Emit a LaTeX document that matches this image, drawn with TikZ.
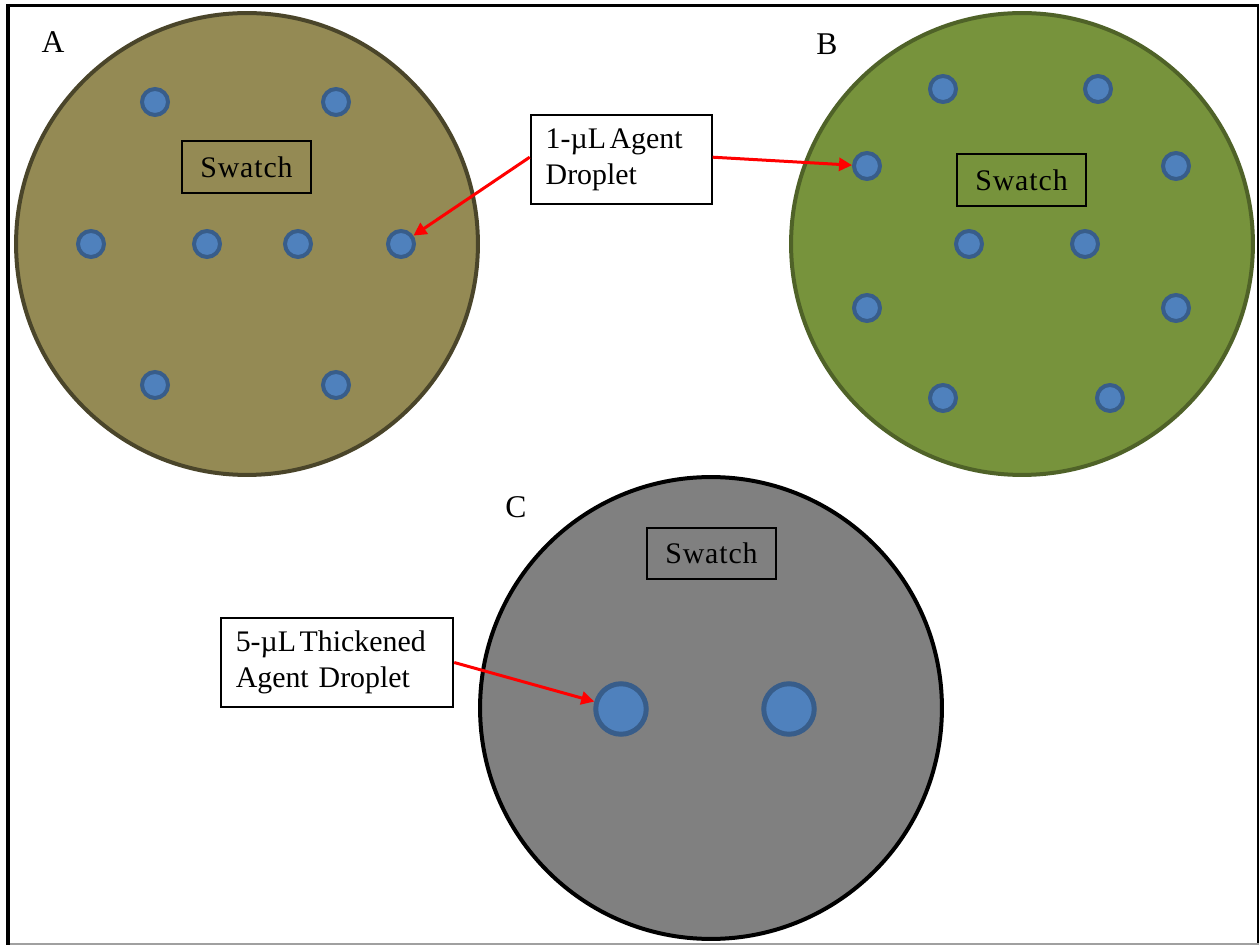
\documentclass[tikz,border=0pt]{standalone}
\usepackage{fontspec}
\setmainfont{Liberation Serif}
\newfontfamily\swfont[LetterSpace=3]{Liberation Serif}
\usetikzlibrary{arrows.meta}
\definecolor{tanfill}{HTML}{948A54}
\definecolor{tanline}{HTML}{4A452A}
\definecolor{grnfill}{HTML}{77933C}
\definecolor{grnline}{HTML}{4F6228}
\definecolor{dropfill}{HTML}{4F81BD}
\definecolor{dropline}{HTML}{385D8A}
\definecolor{dishgray}{HTML}{808080}
\definecolor{framegray}{HTML}{A0A0A0}
\newcommand{\tsp}{\hspace{0.12em}}
\begin{document}
\begin{tikzpicture}[x=0.02cm,y=-0.02cm,
  dish/.style={circle, inner sep=0pt, minimum size=9.24cm, line width=0.08cm},
  drop/.style={circle, inner sep=0pt, minimum size=0.52cm, draw=dropline, fill=dropfill, line width=0.08cm},
  bigdrop/.style={circle, inner sep=0pt, minimum size=1.01cm, draw=dropline, fill=dropfill, line width=0.1cm},
  swatchbox/.style={draw=black, line width=0.04cm, minimum width=2.6cm, minimum height=1.04cm, inner sep=0pt, font=\swfont\fontsize{17}{20}\selectfont},
  callout/.style={draw=black, fill=white, line width=0.04cm, align=left, inner xsep=0.3cm, inner ysep=0pt, font=\fontsize{17}{20.2}\selectfont},
  panel/.style={inner sep=0pt, font=\fontsize{18}{20}\selectfont},
  pointer/.style={draw=red, line width=0.06cm, -{Triangle[length=0.26cm,width=0.26cm]}}
]
\useasboundingbox (0,0) rectangle (1259,945);
\fill[white] (0,0) rectangle (1259,945);
% frame
\draw[line width=0.08cm] (8,4) -- (8,945);
\draw[line width=0.06cm] (6,5.5) -- (1259,5.5);
\draw[line width=0.04cm] (1257.8,5) -- (1257.8,945);
\draw[line width=0.04cm, framegray] (10,943.8) -- (1259,943.8);

% dishes
\node[dish, draw=tanline, fill=tanfill] (dishA) at (247,244) {};
\node[dish, draw=grnline, fill=grnfill] (dishB) at (1022,244) {};
\node[dish, draw=black, fill=dishgray] (dishC) at (711,708) {};

% panel labels
\node[panel] (labA) at (53,42) {A};
\node[panel] (labB) at (827,44) {B};
\node[panel] (labC) at (516,507) {C};

% droplets A
\node[drop] (dA1) at (155,102) {};
\node[drop] (dA2) at (336,102) {};
\node[drop] (dA3) at (91,244) {};
\node[drop] (dA4) at (207,244) {};
\node[drop] (dA5) at (298,244) {};
\node[drop] (dA6) at (401,244) {};
\node[drop] (dA7) at (155,385) {};
\node[drop] (dA8) at (336,385) {};

% droplets B
\node[drop] (dB1) at (943,89) {};
\node[drop] (dB2) at (1098,89) {};
\node[drop] (dB3) at (867,166) {};
\node[drop] (dB4) at (1176,166) {};
\node[drop] (dB5) at (969,244) {};
\node[drop] (dB6) at (1085,244) {};
\node[drop] (dB7) at (867,308) {};
\node[drop] (dB8) at (1176,308) {};
\node[drop] (dB9) at (943,398) {};
\node[drop] (dB10) at (1110,398) {};

% droplets C
\node[bigdrop] (dC1) at (621,709) {};
\node[bigdrop] (dC2) at (789,709) {};

% swatches
\node[swatchbox] (swA) at (246.5,167) {Swatch};
\node[swatchbox] (swB) at (1021.5,180) {Swatch};
\node[swatchbox] (swC) at (711.5,553.5) {Swatch};

% callouts
\node[callout, text width=3.02cm, minimum height=1.77cm] (c1) at (621.2,159.7) {1-µL\tsp Agent\\Droplet};
\node[callout, text width=4.05cm, minimum height=1.77cm] (c2) at (337,662.5) {5-µL\tsp Thickened\\Agent Droplet};

% pointers
\draw[pointer] ([yshift=0.05cm]c1.west) -- (dA6);
\draw[pointer] ([yshift=0.05cm]c1.east) -- (dB3);
\draw[pointer] (c2.east) -- (dC1);
\end{tikzpicture}
\end{document}
